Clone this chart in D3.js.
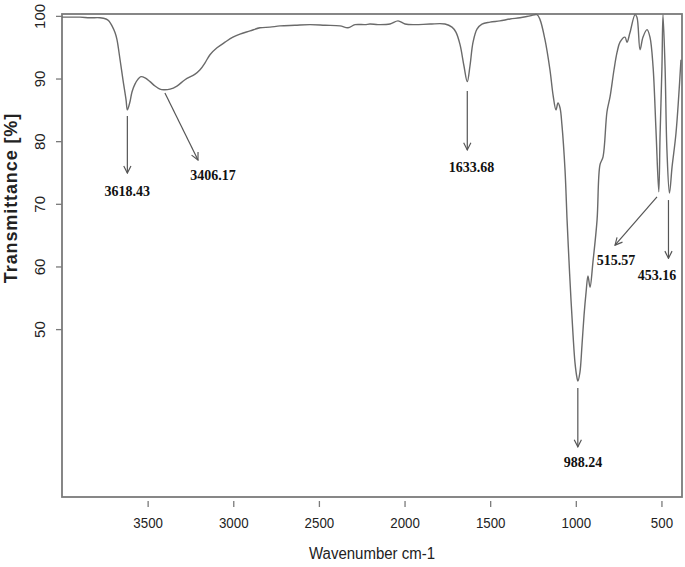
<!DOCTYPE html>
<html><head><meta charset="utf-8">
<script src="https://cdn.jsdelivr.net/npm/d3@7/dist/d3.min.js"></script>
<style>body{margin:0;background:#fff}svg{display:block}</style>
</head><body>
<svg id="c" width="685" height="567"></svg>
<script>
// Spectrum data (wavenumber cm-1, transmittance %)
const wavenumbers = [4000,3953,3895,3837,3778,3743,3726,3708,3690,3679,3661,3644,3626,3618.43,3603,3591,3574,3556,3539,3515,3486,3457,3428,3406.17,3369,3329,3282,3223,3194,3165,3136,3095,3048,3002,2961,2902,2844,2786,2727,2640,2552,2464,2377,2330,2289,2231,2202,2155,2085,2038,1997,1939,1851,1764,1723,1700,1676,1653,1633.68,1618,1600,1577,1548,1501,1443,1384,1326,1267,1227,1209,1180,1151,1133,1116,1104,1092,1081,1063,1051,1040,1028,1016,1005,993,988.24,976,964,952,940,929,917,900,876,859,841,818,800,777,759,742,713,701,684,654,643,625,608,584,567,549,532,515.57,508,497,491,479,468,453.16,438,415,386];
const transmittance = [99.8,99.8,99.8,99.7,99.7,99.5,99.2,98.4,97.3,96.2,93.0,89.8,86.6,85.0,86.3,87.9,89.1,89.9,90.3,90.1,89.5,88.8,88.3,88.2,88.3,88.8,89.8,90.7,91.4,92.5,93.8,94.9,95.8,96.6,97.1,97.6,98.1,98.2,98.4,98.5,98.6,98.5,98.4,98.1,98.6,98.6,98.7,98.6,98.7,99.2,98.7,98.6,98.7,98.7,98.2,97.4,95.4,92.0,89.5,92.0,95.8,97.9,98.7,99.0,99.2,99.5,99.7,100.0,100.2,99.4,96.2,91.4,87.4,85.0,86.1,85.3,82.6,75.4,67.4,61.0,54.6,49.0,44.7,42.2,41.7,43.1,47.4,52.2,55.9,58.5,56.7,60.7,67.4,76.2,77.5,84.7,87.1,91.4,94.2,95.8,96.6,95.8,97.3,100.2,99.8,94.6,96.6,97.8,96.6,91.9,81.8,71.9,81.0,91.9,100.2,91.9,78.6,71.7,75.9,81.3,93.0];

const xTicks = [3500,3000,2500,2000,1500,1000,500];
const yTicks = [50,60,70,80,90,100];

// Peak annotations (data units)
const peakLabels = ["3618.43","3406.17","1633.68","988.24","515.57","453.16"];
const arrowStartWave = [3618.43,3399,1633.68,988.24,526,459];
const arrowStartT    = [84.0,87.7,88.0,40.6,71.1,70.6];
const arrowEndWave   = [3618.43,3206,1633.68,988.24,771,459];
const arrowEndT      = [74.9,77.0,78.6,31.2,63.4,61.3];
const labelWave      = [3618.43,3118,1609,958,765,526];
const labelT         = [71.2,73.8,75.1,28.0,60.2,57.8];

const svg = d3.select("#c");
const x = d3.scaleLinear().domain([4000,380]).range([62,682]);
const y = d3.scaleLinear().domain([23.2,100.3]).range([497,14]);
const gray = "#7a7a7a";

svg.append("defs").append("marker")
  .attr("id","ah").attr("viewBox","0 0 10 10").attr("refX",9).attr("refY",5)
  .attr("markerWidth",9).attr("markerHeight",9).attr("markerUnits","userSpaceOnUse")
  .attr("orient","auto")
  .append("path").attr("d","M1,1 L9,5 L1,9").attr("fill","none")
  .attr("stroke","#555").attr("stroke-width",1.3);

// frame
svg.append("rect").attr("x",62).attr("y",14).attr("width",620).attr("height",483)
  .attr("fill","none").attr("stroke",gray).attr("stroke-width",1.8);

// x axis
const xa = svg.append("g").attr("transform","translate(0,497)")
  .call(d3.axisBottom(x).tickValues(xTicks).tickSize(10).tickPadding(7).tickFormat(d3.format("d")));
xa.select(".domain").remove();
xa.selectAll(".tick line").attr("stroke",gray).attr("stroke-width",1.3).attr("y1",4);
xa.selectAll(".tick text").attr("font-family","Liberation Sans, Arial, sans-serif")
  .attr("font-size",15).attr("fill","#222")
  .attr("textLength",d=>String(d).length*7.4).attr("lengthAdjust","spacingAndGlyphs")
  .attr("dy","0.9em");

// y axis
const ya = svg.append("g").attr("transform","translate(62,0)")
  .call(d3.axisLeft(y).tickValues(yTicks).tickSize(6).tickFormat(d3.format("d")));
ya.select(".domain").remove();
ya.selectAll(".tick line").attr("stroke",gray).attr("stroke-width",1.3);
ya.selectAll(".tick text").remove();
ya.selectAll(".tick").append("text")
  .attr("transform","translate(-17,0) rotate(-90)")
  .attr("text-anchor","middle").attr("dy","0em")
  .attr("font-family","Liberation Sans, Arial, sans-serif").attr("font-size",15)
  .attr("fill","#222").text(d=>d);

// axis titles
svg.append("text").attr("x",372).attr("y",559).attr("text-anchor","middle")
  .attr("font-family","Liberation Sans, Arial, sans-serif").attr("font-size",16)
  .attr("textLength",126).attr("lengthAdjust","spacingAndGlyphs").attr("fill","#222")
  .text("Wavenumber cm-1");
svg.append("text").attr("transform","translate(17,198) rotate(-90)").attr("text-anchor","middle")
  .attr("font-family","Liberation Sans, Arial, sans-serif").attr("font-size",18).attr("font-weight","bold")
  .attr("letter-spacing",0.9).attr("fill","#222")
  .text("Transmittance [%]");

// spectrum
const pts = wavenumbers.map((w,i)=>[w,transmittance[i]]);
svg.append("path").datum(pts)
  .attr("d", d3.line().x(d=>x(d[0])).y(d=>y(d[1])).curve(d3.curveCatmullRom.alpha(0.5)))
  .attr("fill","none").attr("stroke","#6a6a6a").attr("stroke-width",1.4);

// annotations
const ann = svg.append("g");
peakLabels.forEach((lab,i)=>{
  ann.append("line")
    .attr("x1",x(arrowStartWave[i])).attr("y1",y(arrowStartT[i]))
    .attr("x2",x(arrowEndWave[i])).attr("y2",y(arrowEndT[i]))
    .attr("stroke","#555").attr("stroke-width",1.2).attr("marker-end","url(#ah)");
  ann.append("text").attr("x",x(labelWave[i])).attr("y",y(labelT[i]))
    .attr("text-anchor","middle").attr("font-family","Liberation Serif, Times New Roman, serif")
    .attr("font-weight","bold").attr("font-size",14).attr("fill","#111").text(lab);
});
</script>
</body></html>
